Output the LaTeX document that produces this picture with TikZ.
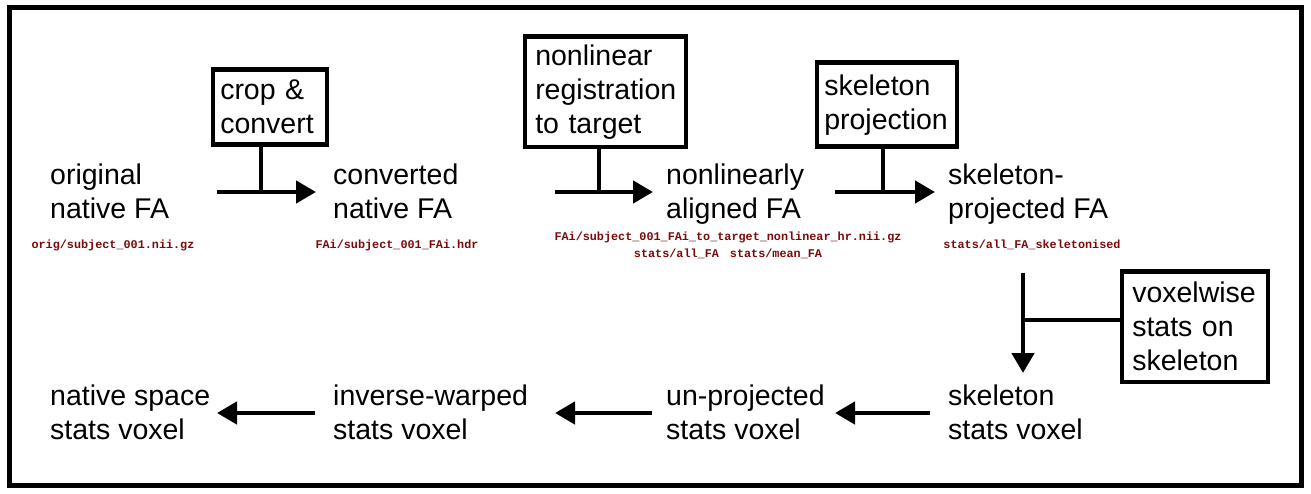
\documentclass[tikz,border=0pt]{standalone}
\usepackage{fontspec}
\setmainfont{Liberation Sans}
\newfontfamily\labelfont{Liberation Mono}
\usetikzlibrary{arrows.meta}
\definecolor{labelred}{HTML}{7A0A0A}
\tikzset{
  big/.style={font=\fontsize{28.5}{34}\selectfont, inner sep=0pt, align=left, anchor=base west},
  small/.style={font=\labelfont\bfseries\fontsize{11.8}{17}\selectfont, text=labelred, inner sep=0pt, align=center, anchor=base},
  procbox/.style={draw, line width=4.5pt, anchor=north west, align=left, inner ysep=0pt,
    font=\fontsize{28.5}{34}\selectfont},
  conn/.style={line width=4.5pt},
  arr/.style={line width=4.5pt, -{Triangle[length=20pt,width=22pt]}},
}
\begin{document}
\begin{tikzpicture}[x=1pt,y=-1pt]
\useasboundingbox (0,0) rectangle (1311,494);
\draw[line width=5pt] (9.5,8) rectangle (1301,485.5);

% main text nodes (base anchor = baseline of the last line)
\node[big] (orig) at (50,219) {original\\native FA};
\node[big] (conv) at (333,219) {converted\\native FA};
\node[big] (nlin) at (666,219) {nonlinearly\\aligned FA};
\node[big] (skp) at (948,219) {skeleton-\\projected FA};
\node[big] (nat) at (50,439) {native space\\stats voxel};
\node[big] (inv) at (333,439) {inverse-warped\\stats voxel};
\node[big] (unp) at (666,439) {un-projected\\stats voxel};
\node[big] (sks) at (948,439) {skeleton\\stats voxel};

% small labels
\node[small] (l1) at (113,249) {orig/subject\_001.nii.gz};
\node[small] (l2) at (397,249) {FAi/subject\_001\_FAi.hdr};
\node[small] (l3) at (728,258) {FAi/subject\_001\_FAi\_to\_target\_nonlinear\_hr.nii.gz\\stats/all\_FA\hspace{4pt} stats/mean\_FA};
\node[small] (l4) at (1032,249) {stats/all\_FA\_skeletonised};

% process boxes
\node[procbox, inner xsep=7.5pt, text width=99pt, minimum height=75pt] (b1) at (210.5,67.5) {crop \&\\convert};
\node[procbox, inner xsep=10.5pt, text width=140pt, minimum height=110.5pt] (b2) at (522.5,34.5) {nonlinear\\registration\\to target};
\node[procbox, inner xsep=7.5pt, text width=125pt, minimum height=84pt] (b3) at (814.5,60.5) {skeleton\\projection};
\node[procbox, inner xsep=10.5pt, text width=125pt, minimum height=110pt] (b4) at (1119.5,269.5) {voxelwise\\stats on\\skeleton};

% arrow end points
\coordinate (a1s) at (217,192); \coordinate (a1e) at (316,192);
\coordinate (a2s) at (555,192); \coordinate (a2e) at (653,192);
\coordinate (a3s) at (835,192); \coordinate (a3e) at (935,192);
\coordinate (a4s) at (1023,273); \coordinate (a4e) at (1023,373);
\coordinate (a5s) at (930,413); \coordinate (a5e) at (835,413);
\coordinate (a6s) at (652,413); \coordinate (a6e) at (555,413);
\coordinate (a7s) at (315,413); \coordinate (a7e) at (217,413);

\draw[arr] (a1s) -- (a1e);
\draw[arr] (a2s) -- (a2e);
\draw[arr] (a3s) -- (a3e);
\draw[arr] (a4s) -- (a4e);
\draw[arr] (a5s) -- (a5e);
\draw[arr] (a6s) -- (a6e);
\draw[arr] (a7s) -- (a7e);

% stems from boxes to arrows
\draw[conn] (b1.south -| 261,0) -- (261,192);
\draw[conn] (b2.south -| 599,0) -- (599,192);
\draw[conn] (b3.south -| 883,0) -- (883,192);
\draw[conn] (b4.west |- 0,320) -- (1023,320);
\end{tikzpicture}
\end{document}
